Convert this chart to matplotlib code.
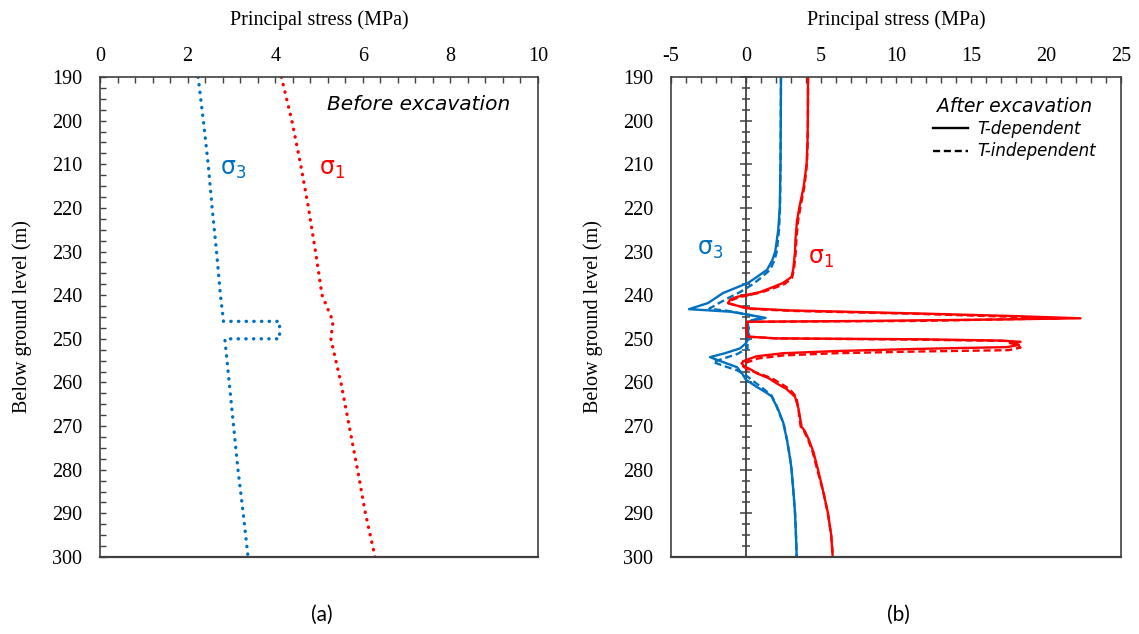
import matplotlib.pyplot as plt
from matplotlib.lines import Line2D
from matplotlib.ticker import MultipleLocator

# (a) before excavation
depth_s3_before = [190, 200, 210, 220, 230, 240, 246, 246, 250, 250, 260, 270, 280, 290, 300]
s3_before = [2.24, 2.36, 2.47, 2.56, 2.66, 2.75, 2.82, 4.1, 4.1, 2.85, 2.95, 3.05, 3.15, 3.27, 3.38]
depth_s1_before = [190, 200, 210, 220, 230, 240, 246, 250, 260, 270, 280, 290, 300]
s1_before = [4.14, 4.38, 4.58, 4.76, 4.92, 5.07, 5.32, 5.27, 5.5, 5.69, 5.88, 6.06, 6.28]

# (b) after excavation, sigma 3
depth_s3_dep = [190, 200, 210, 220, 225, 230, 232, 234.2, 236, 237.2, 239.5, 241.8, 243.2, 243.8, 244.5,
                245.2, 245.8, 246.3, 248, 250, 251, 252.2, 253.3, 254.2, 254.9, 256.5, 258, 259.4, 261,
                262.4, 263.2, 266.3, 269.3, 273.2, 277, 280, 285, 290, 295, 300]
s3_dep = [2.33, 2.32, 2.3, 2.25, 2.15, 1.95, 1.75, 1.4, 0.65, 0.13, -1.53, -2.53, -3.8, -1.0, 0.2,
          1.3, 0.4, 0.1, 0.15, 0.15, 0.0, -0.4, -1.4, -2.4, -1.87, -0.6, -0.25, 0.0, 0.71,
          1.38, 1.71, 2.16, 2.49, 2.73, 2.92, 3.04, 3.16, 3.27, 3.33, 3.38]
depth_s3_ind = [190, 200, 210, 220, 225, 230, 232, 234.2, 236, 237.5, 239.3, 240.5, 242, 243.1, 243.6,
                244.5, 245.2, 245.8, 246.3, 248, 250, 251, 252.2, 253.5, 255.3, 256.2, 257.2, 258.5,
                259.5, 261, 263, 265, 267, 269.3, 273.2, 277, 280, 285, 290, 295, 300]
s3_ind = [2.33, 2.32, 2.3, 2.27, 2.2, 2.05, 1.9, 1.6, 1.0, 0.45, -0.4, -1.1, -1.9, -2.45, -1.2,
          0.2, 1.1, 0.3, 0.1, 0.2, 0.2, 0.1, 0.1, -0.6, -2.2, -1.5, -0.6, 0.05,
          0.4, 1.0, 1.7, 2.0, 2.2, 2.5, 2.74, 2.92, 3.04, 3.16, 3.27, 3.33, 3.38]

# (b) after excavation, sigma 1
depth_s1_dep = [190, 200, 205, 210, 215, 220, 223, 227, 230, 234, 235.8, 237.2, 238, 239.3, 240.4, 241,
                241.8, 242.4, 243.0, 243.5, 244.2, 244.8, 245.3, 245.6, 245.9, 246.1, 247, 248, 249.5,
                249.9, 250.1, 250.4, 250.7, 251.0, 251.4, 251.9, 252.3, 252.8, 253.3, 254, 255, 255.6,
                256.3, 257.2, 257.9, 259, 260.2, 261.5, 263.3, 266, 268, 270.2, 271, 273.2, 276, 280,
                285, 290, 295, 300]
s1_dep = [4.13, 4.12, 4.1, 4.04, 3.85, 3.55, 3.4, 3.3, 3.27, 3.15, 3.04, 2.47, 1.9, 0.93, -0.62, -1.05,
          -1.2, -0.6, 0.1, 3.0, 11.6, 18.0, 22.3, 16.0, 8.0, 0.1, 0.05, 0.05, 0.1,
          2.0, 11.6, 17.0, 18.3, 17.6, 18.2, 17.4, 11.6, 6.0, 2.5, 0.7, -0.1, -0.3,
          -0.1, 0.4, 0.71, 1.5, 2.04, 2.7, 3.27, 3.5, 3.6, 3.71, 3.9, 4.2, 4.5, 4.8,
          5.15, 5.47, 5.68, 5.78]
depth_s1_ind = [190, 200, 205, 210, 215, 220, 223, 227, 230, 234, 236, 237.4, 238.2, 239.4, 240.5, 241.2,
                241.9, 242.5, 243.1, 243.6, 244.3, 245.3, 245.9, 246.1, 247, 248, 249.5,
                249.9, 250.2, 250.5, 252.0, 252.6, 252.9, 253.3, 253.8, 254.5, 255.5, 256.3,
                257, 258, 259, 260.2, 261.5, 263.3, 266, 268, 270.2, 271, 273.2, 276, 280,
                285, 290, 295, 300]
s1_ind = [4.14, 4.13, 4.11, 4.06, 3.9, 3.62, 3.47, 3.36, 3.32, 3.2, 3.07, 2.6, 2.0, 1.0, -0.5, -1.0,
          -1.15, -0.5, 0.1, 3.0, 11.6, 21.0, 11.6, 0.1, 0.05, 0.05, 0.1,
          2.0, 11.6, 17.5, 18.3, 17.5, 11.6, 6.0, 2.5, 0.8, 0.0, -0.2,
          0.1, 0.9, 1.7, 2.3, 2.9, 3.35, 3.5, 3.55, 3.65, 3.85, 4.15, 4.45, 4.75,
          5.15, 5.45, 5.68, 5.8]

blue = "#0070C0"
red = "#FF0000"
dark = "#404040"

plt.rcParams["font.family"] = "Liberation Serif"
plt.rcParams["mathtext.default"] = "regular"
plt.rcParams["axes.unicode_minus"] = False
anno = {"family": "DejaVu Sans"}
fs = 14.5

fig = plt.figure(figsize=(11.39, 6.34), dpi=100)
ax1 = fig.add_axes([100 / 1139, 1 - 557 / 634, 438 / 1139, 480 / 634])
ax2 = fig.add_axes([671 / 1139, 1 - 557 / 634, 450 / 1139, 480 / 634])

dots = dict(lw=2.4, linestyle=(0, (0.1, 2.2)), dash_capstyle="round")
ax1.plot(s3_before, depth_s3_before, color=blue, **dots)
ax1.plot(s1_before, depth_s1_before, color=red, **dots)

dash = (0, (3, 1.6))
ax2.plot(s3_ind, depth_s3_ind, color=blue, lw=1.7, linestyle=dash)
ax2.plot(s1_ind, depth_s1_ind, color=red, lw=1.7, linestyle=dash)
ax2.plot(s3_dep, depth_s3_dep, color=blue, lw=1.7)
ax2.plot(s1_dep, depth_s1_dep, color=red, lw=1.7)

for ax in (ax1, ax2):
    ax.set_ylim(300, 190)
    ax.yaxis.set_major_locator(MultipleLocator(10))
    ax.xaxis.set_ticks_position("top")
    ax.xaxis.set_label_position("top")
    ax.set_xlabel("Principal stress (MPa)", fontsize=fs, labelpad=16)
    ax.set_ylabel("Below ground level (m)", fontsize=fs, labelpad=14)
    ax.tick_params(axis="x", which="both", direction="in", length=4, width=1, color=dark,
                   pad=8, labelsize=fs)
    ax.tick_params(axis="y", which="both", labelsize=fs, pad=13)
    for s in ax.spines.values():
        s.set_color(dark)
        s.set_linewidth(1.2)
    ax.spines["bottom"].set_linewidth(1.6)

ax1.set_xlim(0, 10)
ax1.xaxis.set_major_locator(MultipleLocator(2))
ax1.xaxis.set_minor_locator(MultipleLocator(0.4))
ax1.yaxis.set_minor_locator(MultipleLocator(2.5))
ax1.tick_params(axis="y", which="both", direction="in", length=4, width=1, color=dark)

ax2.set_xlim(-5, 25)
ax2.xaxis.set_major_locator(MultipleLocator(5))
ax2.xaxis.set_minor_locator(MultipleLocator(1))
ax2.tick_params(axis="y", which="both", length=0)

# zero line with its own ticks
zero = ax2.secondary_yaxis(0, transform=ax2.transData)
zero.yaxis.set_major_locator(MultipleLocator(10))
zero.yaxis.set_minor_locator(MultipleLocator(2.5))
zero.tick_params(which="major", direction="inout", length=9, width=1.1, color=dark, labelleft=False)
zero.tick_params(which="minor", direction="inout", length=6, width=1.1, color=dark)
zero.spines["left"].set_color(dark)
zero.spines["left"].set_linewidth(1.3)

ax1.text(0.936, 0.942, "Before excavation", transform=ax1.transAxes, ha="right", va="center",
         fontsize=14.5, style="italic", **anno)
ax1.text(3.05, 211, r"σ$_3$", color=blue, fontsize=17, ha="center", va="center", **anno)
ax1.text(5.3, 211, r"σ$_1$", color=red, fontsize=17, ha="center", va="center", **anno)
ax2.text(-2.4, 229.5, r"σ$_3$", color=blue, fontsize=17, ha="center", va="center", **anno)
ax2.text(5.0, 231.5, r"σ$_1$", color=red, fontsize=17, ha="center", va="center", **anno)

handles = [Line2D([], [], color="black", lw=1.7),
           Line2D([], [], color="black", lw=1.7, linestyle=dash)]
leg = ax2.legend(handles, ["T-dependent", "T-independent"], title="After excavation",
                 loc="upper right", bbox_to_anchor=(1 - 25 / 450, 1 - 20 / 480), frameon=False,
                 handlelength=2.1, handletextpad=0.55, labelspacing=0.25, borderaxespad=0,
                 borderpad=0, prop={"family": "DejaVu Sans", "style": "italic", "size": 12})
leg.get_title().set_fontproperties({"family": "DejaVu Sans", "style": "italic", "size": 13.5})
leg._legend_box.sep = 3

fig.text(322 / 1139, 1 - 615 / 634, "(a)", ha="center", va="center", fontsize=15, family="Lato")
fig.text(898 / 1139, 1 - 615 / 634, "(b)", ha="center", va="center", fontsize=15, family="Lato")

fig.savefig("out.png", dpi=100)
